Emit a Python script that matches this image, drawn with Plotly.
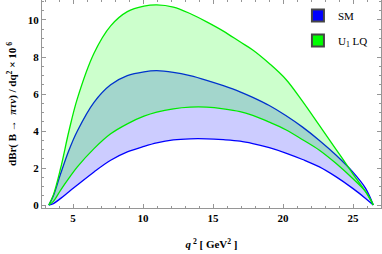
import plotly.graph_objects as go

q2 = [3.27, 3.6, 4.12, 4.71, 5.31, 6.5, 7.69, 8.88, 10.07, 10.98, 12.17, 13.36,
      14.55, 15.74, 16.93, 17.84, 19.02, 20.2, 21.4, 22.6, 23.8, 24.98, 25.9, 26.45]

sm_low = [0, 0.08, 0.36, 0.72, 1.08, 1.79, 2.42, 2.87, 3.17, 3.36, 3.52, 3.58,
          3.58, 3.53, 3.45, 3.32, 3.1, 2.81, 2.46, 2.06, 1.52, 0.9, 0.36, 0]
sm_high = [0, 0.5, 1.7, 2.96, 4.0, 5.55, 6.5, 6.99, 7.2, 7.26, 7.17, 6.99,
           6.74, 6.45, 6.12, 5.82, 5.38, 4.84, 4.21, 3.49, 2.69, 1.79, 0.9, 0]
lq_low = [0, 0.2, 0.81, 1.45, 2.06, 3.05, 3.85, 4.39, 4.8, 5.02, 5.2, 5.29,
          5.29, 5.2, 5.05, 4.84, 4.48, 4.07, 3.53, 2.96, 2.24, 1.43, 0.72, 0]
lq_high = [0, 0.55, 2.0, 4.0, 5.75, 8.2, 9.68, 10.45, 10.75, 10.82, 10.7, 10.35,
           9.9, 9.4, 8.82, 8.38, 7.65, 6.8, 5.6, 4.3, 3.0, 1.7, 0.72, 0]

legend_names = ["SM", "U<sub>1</sub> LQ"]

BLUE = "rgb(0,0,255)"
GREEN = "rgb(0,235,0)"
SERIF = "Liberation Serif"

fig = go.Figure()
fig.add_trace(go.Scatter(x=q2, y=sm_low, mode="lines", line=dict(color=BLUE, width=1.3, shape="spline"),
                         showlegend=False, hoverinfo="skip"))
fig.add_trace(go.Scatter(x=q2, y=sm_high, mode="lines", line=dict(color=BLUE, width=1.3, shape="spline"),
                         fill="tonexty", fillcolor="rgba(0,0,255,0.2)", showlegend=False, hoverinfo="skip"))
fig.add_trace(go.Scatter(x=q2, y=lq_low, mode="lines", line=dict(color=GREEN, width=1.3, shape="spline"),
                         showlegend=False, hoverinfo="skip"))
fig.add_trace(go.Scatter(x=q2, y=lq_high, mode="lines", line=dict(color=GREEN, width=1.3, shape="spline"),
                         fill="tonexty", fillcolor="rgba(0,255,0,0.2)", showlegend=False, hoverinfo="skip"))

for i, (name, col) in enumerate(zip(legend_names, [BLUE, "rgb(0,255,0)"])):
    fig.add_trace(go.Scatter(x=[None], y=[None], mode="markers", name=name, legendgroup=f"g{i}",
                             marker=dict(symbol="square", size=9, color=col,
                                         line=dict(color="rgb(70,70,70)", width=0.6))))

axis_common = dict(showline=True, linecolor="rgb(150,150,150)", linewidth=1, mirror="ticks",
                   ticks="inside", ticklen=4, tickcolor="rgb(150,150,150)", showgrid=False,
                   zeroline=False, automargin=False,
                   tickfont=dict(family=SERIF, size=11, color="black", weight="bold"))

fig.update_xaxes(range=[2.786, 27.0], tickvals=[5, 10, 15, 20, 25],
                 minor=dict(ticks="inside", dtick=1, ticklen=2, tickcolor="rgb(150,150,150)"),
                 title=dict(text="<i>q</i><sup> 2</sup> [ GeV<sup>2</sup> ]",
                            font=dict(family=SERIF, size=11, color="black", weight="bold"), standoff=17),
                 **axis_common)
fig.update_yaxes(range=[-0.16, 11.08], tickvals=[0, 2, 4, 6, 8, 10],
                 minor=dict(ticks="inside", dtick=0.5, ticklen=2, tickcolor="rgb(150,150,150)"),
                 title=dict(text="dBr( B \u2192  <i>\u03c0\u03c4\u03bd</i>) / dq<sup>2</sup> \u00d7 10<sup> 6</sup>",
                            font=dict(family=SERIF, size=11, color="black", weight="bold"), standoff=8),
                 **axis_common)

fig.update_layout(width=382, height=254, margin=dict(l=42, r=1, t=0, b=46),
                  paper_bgcolor="white", plot_bgcolor="white",
                  legend=dict(x=0.755, y=0.995, xanchor="left", yanchor="top", bgcolor="rgba(0,0,0,0)",
                              traceorder="grouped",
                              font=dict(family=SERIF, size=11, color="black"), tracegroupgap=6,
                              itemsizing="constant"))
fig.write_html("out.html", config={"displayModeBar": False},
               post_script="document.body.style.margin='0';document.body.style.overflow='hidden';")
